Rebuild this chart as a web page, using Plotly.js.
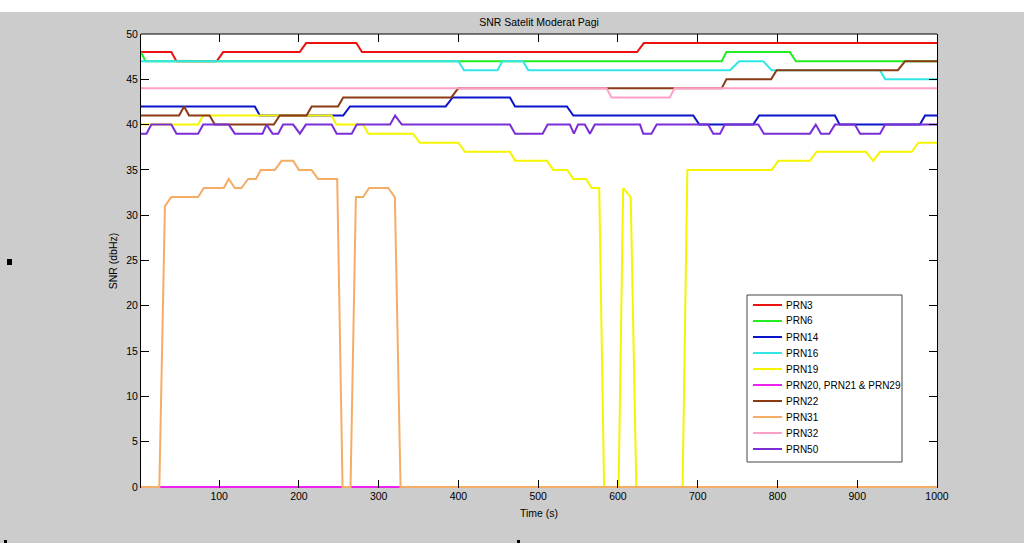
<!DOCTYPE html>
<html><head><meta charset="utf-8">
<script src="https://cdn.plot.ly/plotly-3.0.1.min.js"></script>
<style>
html,body{margin:0;padding:0;background:#ffffff;width:1024px;height:543px;overflow:hidden}
#chart{position:absolute;left:0;top:12px;width:1024px;height:531px}
</style>
</head><body><div id="chart"></div>
<script>
// ---- data (time in s, SNR in dBHz), breakpoints ----
const seriesNames = ['PRN3','PRN6','PRN14','PRN16','PRN19','PRN20, PRN21 & PRN29','PRN22','PRN31','PRN32','PRN50'];
const seriesColors = ['#ee1111','#22ee22','#0a14c8','#33e6e6','#f5f500','#ee22ee','#8b3a14','#f5ad66','#ffa0c8','#7a2ed6'];

const t_PRN3   = [2, 40, 46.5, 97, 105, 201, 209, 272, 279, 624, 632.5, 1000];
const snr_PRN3 = [48, 48, 47, 47, 48, 48, 49, 49, 48, 48, 49, 49];

const t_PRN6   = [2, 7.6, 730, 736, 815.6, 823, 1000];
const snr_PRN6 = [48, 47, 47, 48, 48, 47, 47];

const t_PRN14   = [2, 144.7, 151, 255.5, 264, 384, 392.7, 464.5, 471, 536, 544, 694.4, 702, 769.6, 777, 872, 878, 978.6, 985, 1000];
const snr_PRN14 = [42, 42, 41, 41, 42, 42, 43, 43, 42, 42, 41, 41, 40, 40, 41, 41, 40, 40, 41, 41];

const t_PRN16   = [2, 400, 407, 449, 455, 481, 487.5, 740.5, 752, 782, 792.7, 928.5, 935, 1000];
const snr_PRN16 = [47, 47, 46, 46, 47, 47, 46, 46, 47, 47, 46, 46, 45, 45];

const t_PRN19   = [2, 73.6, 80, 241, 247, 280.5, 287, 343, 351.6, 400, 408, 464.5, 471, 511, 518.8, 536.4, 544, 560, 567, 576.5, 582.6, 600.8, 606.5, 616, 623, 681, 687, 792.7, 801, 840.7, 849, 911, 920, 928.6, 968.3, 976.6, 1000];
const snr_PRN19 = [40, 40, 41, 41, 40, 40, 39, 39, 38, 38, 37, 37, 36, 36, 35, 35, 34, 34, 33, 33, 0, 0, 33, 32, 0, 0, 35, 35, 36, 36, 37, 37, 36, 37, 37, 38, 38];

const t_PRN20   = [2, 1000];
const snr_PRN20 = [0, 0];

const t_PRN22   = [2, 49.8, 56, 62.3, 88, 94.5, 168.5, 176, 209.5, 216, 249, 255.5, 391, 399.7, 730, 736, 792, 799, 951, 960, 1000];
const snr_PRN22 = [41, 41, 42, 41, 41, 40, 40, 41, 41, 42, 42, 43, 43, 44, 44, 45, 45, 46, 46, 47, 47];

const t_PRN31   = [2, 25, 32, 40, 73.6, 80.8, 105.8, 112, 119.6, 128, 136.3, 146, 152.2, 169.8, 178.2, 192.8, 199.9, 215.8, 224, 248, 254.7, 264.7, 271.4, 280.5, 288, 312, 320.3, 327.4, 1000];
const snr_PRN31 = [0, 0, 31, 32, 32, 33, 33, 34, 33, 33, 34, 34, 35, 35, 36, 36, 35, 35, 34, 34, 0, 0, 32, 32, 33, 33, 32, 0, 0];

const t_PRN32   = [2, 585.6, 592, 665, 671, 1000];
const snr_PRN32 = [44, 44, 43, 43, 44, 44];

const t_PRN50   = [2, 8.9, 15, 40, 46.5, 73.6, 80, 112, 119.6, 154.4, 159.4, 166.9, 174, 180.2, 192.8, 201.2, 208.7, 241, 247.4, 266.2, 272.5, 314.3, 320.6, 329, 464.5, 471, 505.5, 511.8, 539.7, 544.8, 550, 558.5, 564.8, 571, 627.6, 631.7, 642, 648.5, 713, 719.5, 728, 734, 776, 783, 840.7, 848, 854.5, 865, 872, 897, 903.6, 928.6, 935, 1000];
const snr_PRN50 = [39, 39, 40, 40, 39, 39, 40, 40, 39, 39, 40, 39, 39, 40, 40, 39, 40, 40, 39, 39, 40, 40, 41, 40, 40, 39, 39, 40, 40, 39, 40, 40, 39, 40, 40, 39, 39, 40, 40, 39, 39, 40, 40, 39, 39, 40, 39, 39, 40, 40, 39, 39, 40, 40];

const xTickVals = [100, 200, 300, 400, 500, 600, 700, 800, 900, 1000];
const yTickVals = [0, 5, 10, 15, 20, 25, 30, 35, 40, 45, 50];

const chartTitle = 'SNR Satelit Moderat Pagi';
const xTitle = 'Time (s)';
const yTitle = 'SNR (dbHz)';

// ---- build ----
const xs = [t_PRN3, t_PRN6, t_PRN14, t_PRN16, t_PRN19, t_PRN20, t_PRN22, t_PRN31, t_PRN32, t_PRN50];
const ys = [snr_PRN3, snr_PRN6, snr_PRN14, snr_PRN16, snr_PRN19, snr_PRN20, snr_PRN22, snr_PRN31, snr_PRN32, snr_PRN50];

const FONT = 'Arial, "Liberation Sans", sans-serif';
const FS = 10.5;
const traces = seriesNames.map((n, i) => ({
  type: 'scatter', mode: 'lines', name: n, x: xs[i], y: ys[i],
  line: {color: seriesColors[i], width: 2}, showlegend: false, hoverinfo: 'skip'
}));

// plot-area geometry in page pixels -> paper coords
const PL = 141, PR = 937, PT = 34, PB = 488;
const px = p => (p - PL) / (PR - PL);
const py = p => (PB - p) / (PB - PT);

const shapes = [];
const annotations = [];
// top border of the axes box
shapes.push({type:'line', xref:'paper', yref:'paper', x0:0, x1:1, y0:1, y1:1, line:{color:'#000', width:1}});
// legend box
shapes.push({type:'rect', xref:'paper', yref:'paper', x0:px(747), x1:px(902), y0:py(462), y1:py(295),
  fillcolor:'#ffffff', line:{color:'#444', width:1}, layer:'above'});
seriesNames.forEach((n, i) => {
  const ry = 305 + 16 * i;
  shapes.push({type:'line', xref:'paper', yref:'paper', x0:px(753), x1:px(782), y0:py(ry), y1:py(ry),
    line:{color:seriesColors[i], width:2}, layer:'above'});
  annotations.push({xref:'paper', yref:'paper', x:px(784), y:py(ry), text:n, showarrow:false,
    xanchor:'left', yanchor:'middle', font:{family:FONT, size:10, color:'#000'}});
});
// small marks on the figure
[[7,259,12,265],[4,540,7,543],[517,540,520,543]].forEach(r => {
  shapes.push({type:'rect', xref:'paper', yref:'paper', x0:px(r[0]), x1:px(r[2]), y0:py(r[3]), y1:py(r[1]),
    fillcolor:'#000', line:{width:0}});
});

const layout = {
  width: 1024, height: 531,
  margin: {l: PL, r: 1024 - PR, t: PT - 12, b: 543 - PB, pad: 0},
  paper_bgcolor: '#cccccc', plot_bgcolor: '#ffffff',
  font: {family: FONT, size: FS, color: '#000'},
  title: {text: chartTitle, x: 0.5, xref: 'paper', xanchor: 'center', y: 1 - 10 / 531, yref: 'container', yanchor: 'middle',
    font: {family: FONT, size: FS, color: '#000'}},
  xaxis: {range: [2, 1000], tickvals: xTickVals, ticks: 'inside', ticklen: 8, tickcolor: '#000', tickwidth: 1,
    showline: false, mirror: 'ticks', showgrid: false, zeroline: false,
    tickfont: {family: FONT, size: FS, color: '#000'},
    title: {text: xTitle, font: {family: FONT, size: FS, color: '#000'}, standoff: 9}},
  yaxis: {range: [-0.11, 50], tickvals: yTickVals, ticks: 'inside', ticklen: 8, tickcolor: '#000', tickwidth: 1,
    showline: true, linecolor: '#000', linewidth: 1, mirror: 'ticks', showgrid: false, zeroline: false,
    tickfont: {family: FONT, size: FS, color: '#000'},
    title: {text: yTitle, font: {family: FONT, size: FS, color: '#000'}, standoff: 6}},
  shapes: shapes, annotations: annotations, showlegend: false
};

Plotly.newPlot('chart', traces, layout, {displayModeBar: false, staticPlot: true});
</script></body></html>
